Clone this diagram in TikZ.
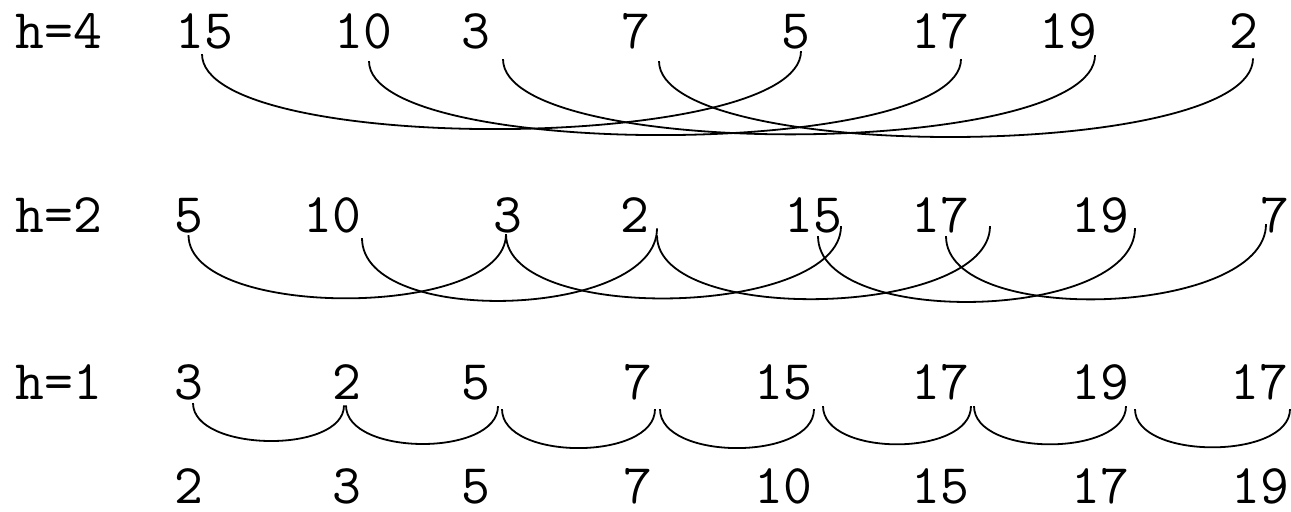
\documentclass[tikz,border=0pt]{standalone}
\usepackage{fontspec}
\tikzset{
num/.style={
  font=\ttfamily\fontsize{28pt}{32pt}\selectfont,
  inner sep=0pt,
  anchor=base
  },
hop/.style={line width=0.9pt}
}

\begin{document}
\begin{tikzpicture}[x=0.5pt,y=0.5pt]
\useasboundingbox (0,0) rectangle (1291,-511);

% h=4
\node[num] (h4) at (59,-48) {h=4};
\node[num] (a1) at (204.5,-48) {15};
\node[num] (a2) at (363.5,-48) {10};
\node[num] (a3) at (476,-48) {3};
\node[num] (a4) at (636,-48) {7};
\node[num] (a5) at (796,-48) {5};
\node[num] (a6) at (940,-48) {17};
\node[num] (a7) at (1068,-48) {19};
\node[num] (a8) at (1244,-48) {2};

% h=2
\node[num] (h2) at (59,-232) {h=2};
\node[num] (b1) at (188.5,-232) {5};
\node[num] (b2) at (332,-232) {10};
\node[num] (b3) at (508,-232) {3};
\node[num] (b4) at (635,-232) {2};
\node[num] (b5) at (813,-232) {15};
\node[num] (b6) at (940,-232) {17};
\node[num] (b7) at (1100,-232) {19};
\node[num] (b8) at (1275,-232) {7};

% h=1
\node[num] (h1) at (59,-399) {h=1};
\node[num] (c1) at (189,-399) {3};
\node[num] (c2) at (347,-399) {2};
\node[num] (c3) at (476,-399) {5};
\node[num] (c4) at (638,-399) {7};
\node[num] (c5) at (783,-399) {15};
\node[num] (c6) at (940,-399) {17};
\node[num] (c7) at (1100,-399) {19};
\node[num] (c8) at (1259,-399) {17};

% sorted
\node[num] (d1) at (189,-503) {2};
\node[num] (d2) at (347,-503) {3};
\node[num] (d3) at (476,-503) {5};
\node[num] (d4) at (638,-503) {7};
\node[num] (d5) at (783,-503) {10};
\node[num] (d6) at (940,-503) {15};
\node[num] (d7) at (1100,-503) {17};
\node[num] (d8) at (1260,-503) {19};

\begin{scope}[hop]
\draw ([shift={(-2.5,-5)}]a1.south) .. controls +(0,-102) and +(0,-102) .. ([shift={(5,-2)}]a5.south);
\draw ([shift={(5.5,-12)}]a2.south) .. controls +(0,-100) and +(0,-100) .. ([shift={(21,-10)}]a6.south);
\draw ([shift={(27,-10)}]a3.south) .. controls +(0,-103) and +(0,-103) .. ([shift={(27,-6)}]a7.south);
\draw ([shift={(23,-12)}]a4.south) .. controls +(0,-103) and +(0,-103) .. ([shift={(9,-10)}]a8.south);

\draw ([shift={(0,-2)}]b1.south) .. controls +(0,-85) and +(0,-85) .. ([shift={(-2,-1)}]b3.south);
\draw ([shift={(30,-5)}]b2.south) .. controls +(0,-90) and +(0,-90) .. ([shift={(22,4)}]b4.south);
\draw ([shift={(-2,-1)}]b3.south) .. controls +(0,-91) and +(0,-91) .. ([shift={(28,7)}]b5.south);
\draw ([shift={(22,-3)}]b4.south) .. controls +(0,-91) and +(0,-91) .. ([shift={(50,7)}]b6.south);
\draw ([shift={(5,-3)}]b5.south) .. controls +(0,-93) and +(0,-93) .. ([shift={(35,5)}]b7.south);
\draw ([shift={(6,-3)}]b6.south) .. controls +(0,-92) and +(0,-92) .. ([shift={(-9,9)}]b8.south);

\draw ([shift={(4,-3)}]c1.south) .. controls +(0,-49) and +(0,-49) .. ([shift={(-3,-6)}]c2.south);
\draw ([shift={(-1,-6)}]c2.south) .. controls +(0,-51) and +(0,-51) .. ([shift={(22,-6)}]c3.south);
\draw ([shift={(26,-9)}]c3.south) .. controls +(0,-52) and +(0,-52) .. ([shift={(17,-9)}]c4.south);
\draw ([shift={(22,-9)}]c4.south) .. controls +(0,-52) and +(0,-52) .. ([shift={(31,-9)}]c5.south);
\draw ([shift={(40,-6)}]c5.south) .. controls +(0,-51) and +(0,-51) .. ([shift={(31,-6)}]c6.south);
\draw ([shift={(34,-6)}]c6.south) .. controls +(0,-51) and +(0,-51) .. ([shift={(26,-6)}]c7.south);
\draw ([shift={(35,-9)}]c7.south) .. controls +(0,-51) and +(0,-51) .. ([shift={(31,-9)}]c8.south);
\end{scope}
\end{tikzpicture}
\end{document}
